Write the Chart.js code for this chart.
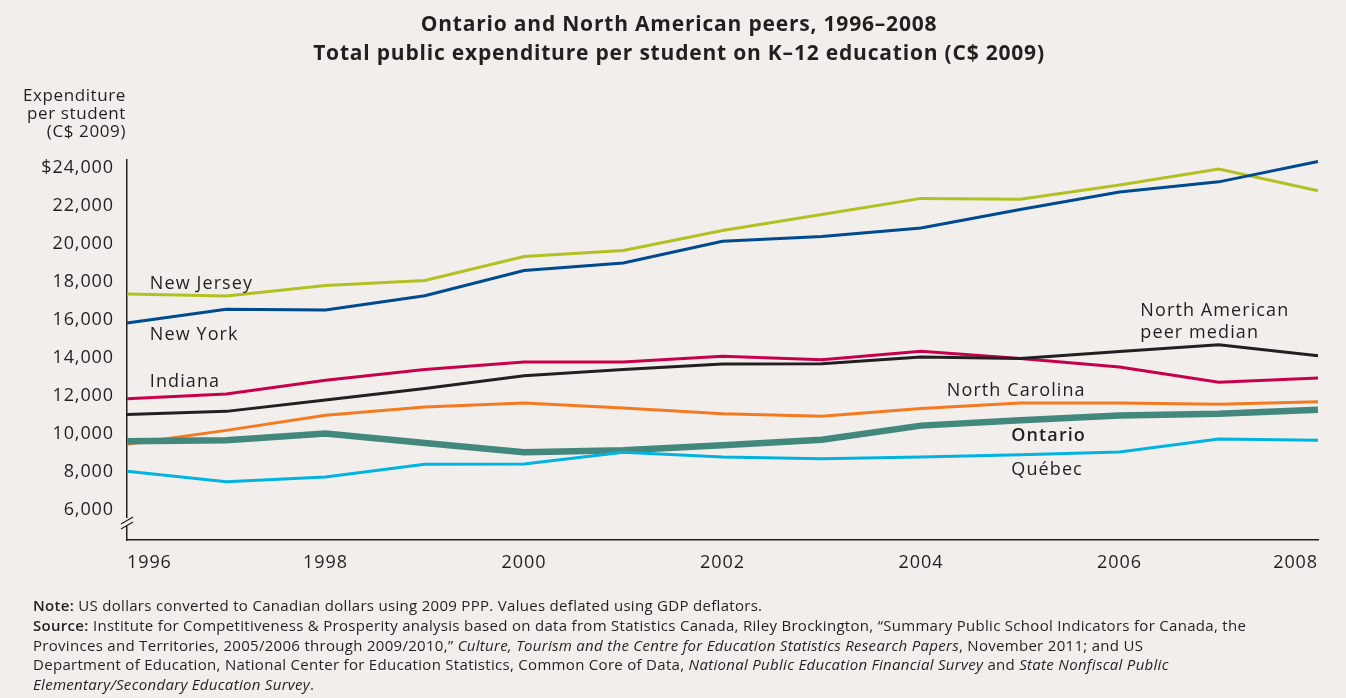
<!DOCTYPE html>
<html>
<head>
<meta charset="utf-8">
<script src="https://cdn.jsdelivr.net/npm/chart.js@4"></script>
<style>
  html, body { margin: 0; padding: 0; background: #f1eeeb; }
  #wrap { width: 1346px; height: 698px; position: relative; }
</style>
</head>
<body>
<div id="wrap"><canvas id="chart" width="1346" height="698"></canvas></div>
<script>
  const years = ['1996','1997','1998','1999','2000','2001','2002','2003','2004','2005','2006','2007','2008'];
  const newJersey   = [17350, 17240, 17800, 18060, 19320, 19640, 20690, 21530, 22380, 22330, 23080, 23930, 22780];
  const newYork     = [15820, 16540, 16510, 17260, 18580, 18980, 20120, 20380, 20820, 21790, 22720, 23250, 24320];
  const indiana     = [11830, 12090, 12810, 13370, 13770, 13770, 14070, 13890, 14330, 13950, 13510, 12700, 12930];
  const peerMedian  = [11000, 11170, 11770, 12370, 13050, 13370, 13660, 13670, 14030, 13950, 14320, 14680, 14100];
  const northCarol  = [9440, 10170, 10960, 11400, 11610, 11350, 11040, 10910, 11320, 11610, 11610, 11540, 11680];
  const ontario     = [9600, 9650, 10000, 9510, 9020, 9120, 9390, 9680, 10420, 10700, 10950, 11040, 11260];
  const quebec      = [8020, 7460, 7720, 8390, 8400, 9020, 8770, 8680, 8770, 8890, 9030, 9720, 9650];
  const yTicks      = [6000, 8000, 10000, 12000, 14000, 16000, 18000, 20000, 22000, 24000];

  // inline series labels: [text, year index, value, bold]
  const seriesLabels = [
    ['New Jersey', 0.23, 17900, false],
    ['New York', 0.23, 15210, false],
    ['Indiana', 0.23, 12740, false],
    ['North American', 10.21, 16480, false],
    ['peer median', 10.21, 15320, false],
    ['North Carolina', 8.26, 12270, false],
    ['Ontario', 8.91, 9900, true],
    ['Québec', 8.91, 8110, false]
  ];

  const BG = '#f1eeeb';
  const INK = '#231f20';
  const FONT = "'Open Sans', 'Liberation Sans', sans-serif";

  const decor = {
    id: 'decor',
    beforeDraw(chart) {
      const ctx = chart.ctx;
      ctx.save();
      ctx.fillStyle = BG;
      ctx.fillRect(0, 0, chart.width, chart.height);
      ctx.restore();
      ctx.letterSpacing = '0.9px';
    },
    afterDraw(chart) {
      const ctx = chart.ctx;
      const x = chart.scales.x, y = chart.scales.y;
      ctx.save();

      // title
      ctx.letterSpacing = '0.8px';
      ctx.fillStyle = INK;
      ctx.textAlign = 'center';
      ctx.textBaseline = 'middle';
      ctx.font = `bold 21px ${FONT}`;
      ctx.fillText('Ontario and North American peers, 1996–2008', 679, 25);
      ctx.fillText('Total public expenditure per student on K–12 education (C$ 2009)', 679, 54);

      // y axis title
      ctx.letterSpacing = '0.6px';
      ctx.font = `17px ${FONT}`;
      ctx.textAlign = 'right';
      ctx.fillText('Expenditure', 126, 96);
      ctx.fillText('per student', 126, 114);
      ctx.fillText('(C$ 2009)', 126, 132);

      // axis break
      const ax = chart.chartArea.left;
      ctx.fillStyle = BG;
      ctx.fillRect(ax - 3, 518, 6, 8);
      ctx.strokeStyle = INK;
      ctx.lineWidth = 1.2;
      ctx.beginPath();
      ctx.moveTo(ax - 6, 524); ctx.lineTo(ax + 6, 517);
      ctx.moveTo(ax - 6, 529); ctx.lineTo(ax + 6, 522);
      ctx.stroke();

      // series labels
      ctx.letterSpacing = '1.1px';
      ctx.textAlign = 'left';
      ctx.fillStyle = INK;
      seriesLabels.forEach(([t, i, v, b]) => {
        ctx.font = `${b ? '600 ' : ''}18px ${FONT}`;
        const px = x.left + (x.getPixelForValue(1) - x.getPixelForValue(0)) * i;
        ctx.fillText(t, px, y.getPixelForValue(v));
      });

      // notes
      ctx.letterSpacing = '0.3px';
      ctx.textBaseline = 'middle';
      const lines = [
        [['600', 'Note:'], ['', ' US dollars converted to Canadian dollars using 2009 PPP. Values deflated using GDP deflators.']],
        [['600', 'Source:'], ['', ' Institute for Competitiveness & Prosperity analysis based on data from Statistics Canada, Riley Brockington, “Summary Public School Indicators for Canada, the']],
        [['', 'Provinces and Territories, 2005/2006 through 2009/2010,” '], ['italic', 'Culture, Tourism and the Centre for Education Statistics Research Papers'], ['', ', November 2011; and US']],
        [['', 'Department of Education, National Center for Education Statistics, Common Core of Data, '], ['italic', 'National Public Education Financial Survey'], ['', ' and '], ['italic', 'State Nonfiscal Public']],
        [['italic', 'Elementary/Secondary Education Survey'], ['', '.']]
      ];
      lines.forEach((parts, k) => {
        let cx = 33;
        const cy = 607 + k * 19.7;
        parts.forEach(([st, txt]) => {
          ctx.font = `${st} 15px ${FONT}`.trim();
          ctx.fillText(txt, cx, cy);
          cx += ctx.measureText(txt).width;
        });
      });
      ctx.restore();
    }
  };

  const mk = (label, data, color, width) => ({
    label, data, borderColor: color, borderWidth: width,
    pointRadius: 0, tension: 0, fill: false, borderCapStyle: 'butt', borderJoinStyle: 'miter'
  });

  new Chart(document.getElementById('chart'), {
    type: 'line',
    data: {
      labels: years,
      datasets: [
        mk('Québec', quebec, '#00b3e0', 3),
        mk('Ontario', ontario, '#43887d', 6.5),
        mk('North Carolina', northCarol, '#f47a21', 3),
        mk('North American peer median', peerMedian, '#231f20', 3),
        mk('Indiana', indiana, '#c8004c', 3),
        mk('New York', newYork, '#004a8f', 3),
        mk('New Jersey', newJersey, '#b2c022', 3)
      ]
    },
    options: {
      responsive: false,
      animation: false,
      layout: { padding: { top: 160, right: 28, left: 0, bottom: 0 } },
      plugins: { legend: { display: false }, title: { display: false }, tooltip: { enabled: false } },
      scales: {
        x: {
          offset: false,
          grid: { display: false, drawTicks: false },
          border: { display: true, color: INK, width: 1.5 },
          ticks: {
            autoSkip: false, maxRotation: 0, align: 'inner', padding: 12,
            color: INK, font: { family: FONT, size: 18 },
            callback: (v, i) => (i % 2 === 0 ? years[i] : '')
          },
          afterFit: s => { s.height = 158; }
        },
        y: {
          min: 4400, max: 24400,
          grid: { display: false, drawTicks: false },
          border: { display: true, color: INK, width: 1.5 },
          afterBuildTicks: s => { s.ticks = yTicks.map(v => ({ value: v })); },
          ticks: {
            padding: 13, color: INK, font: { family: FONT, size: 18 },
            callback: v => (v === 24000 ? '$' : '') + v.toLocaleString('en-US')
          },
          afterFit: s => { s.width = 127; }
        }
      }
    },
    plugins: [decor]
  });
</script>
</body>
</html>
